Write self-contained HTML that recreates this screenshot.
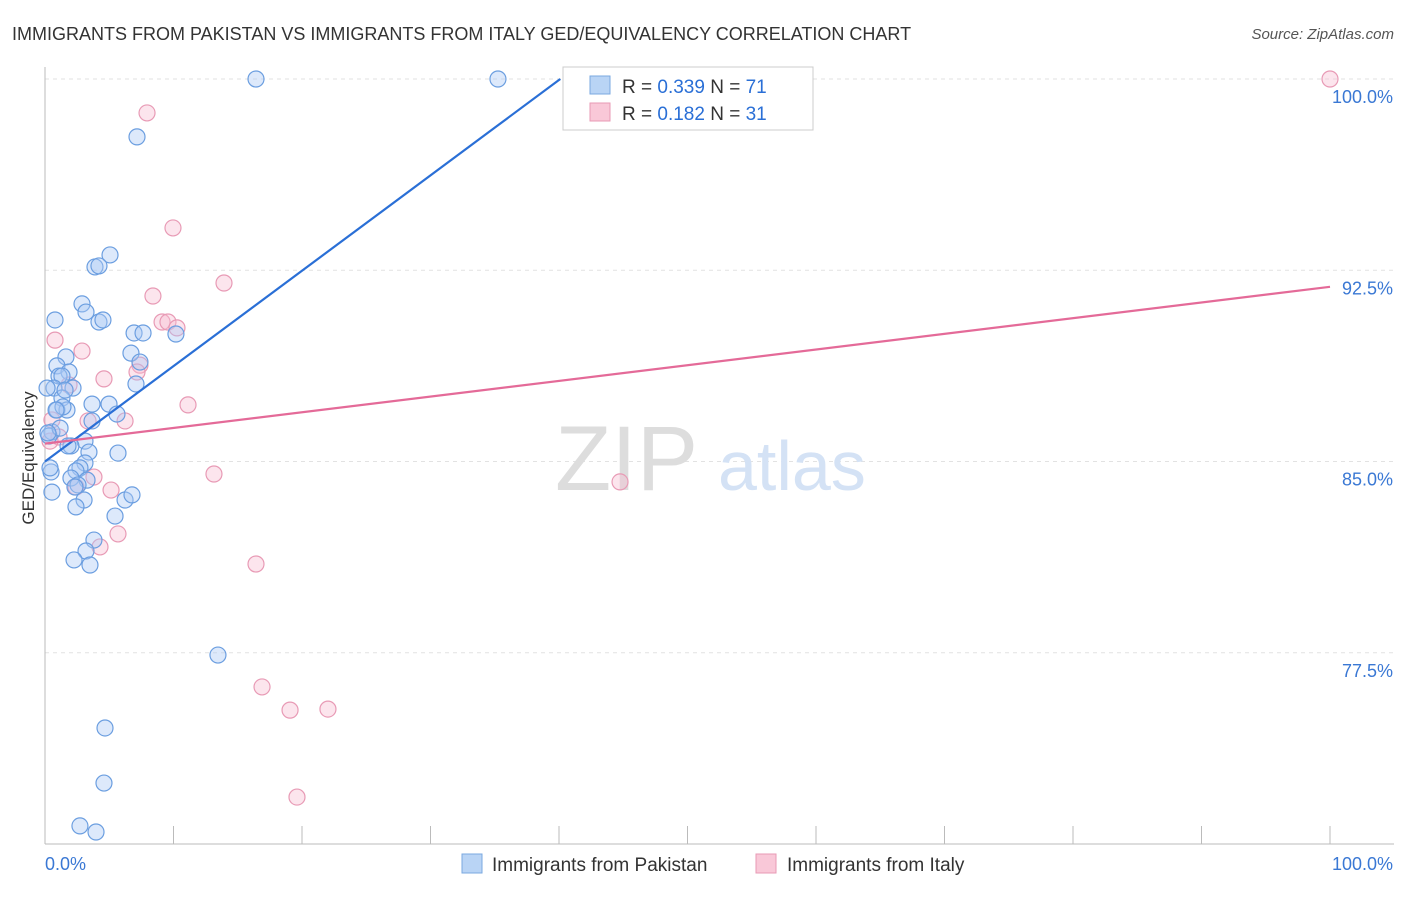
<!DOCTYPE html>
<html><head><meta charset="utf-8"><style>
body{margin:0;background:#fff;font-family:"Liberation Sans",sans-serif}
svg text{font-family:"Liberation Sans",sans-serif}
</style></head><body>
<svg width="1406" height="892" viewBox="0 0 1406 892" xmlns="http://www.w3.org/2000/svg">
<text x="12" y="40" font-size="18" fill="#333">IMMIGRANTS FROM PAKISTAN VS IMMIGRANTS FROM ITALY GED/EQUIVALENCY CORRELATION CHART</text>
<text x="1394" y="39" font-size="15" fill="#555" text-anchor="end" font-style="italic">Source: ZipAtlas.com</text>
<g id="grid"></g>
<text x="555" y="490" font-size="92" fill="#ddd" font-family="Liberation Serif">ZIP</text>
<text x="718" y="490" font-size="70" fill="#d4e2f5">atlas</text>
<g id="marks"></g>
<text transform="translate(34,458) rotate(-90)" font-size="17" fill="#333" text-anchor="middle">GED/Equivalency</text>
<g>
<rect x="563" y="67" width="250" height="63" fill="#fff" stroke="#ccc"/>
<rect x="590" y="76" width="20" height="18" fill="#b9d4f5" stroke="#7aa8e0"/>
<rect x="590" y="103" width="20" height="18" fill="#f9c8d8" stroke="#e89ab5"/>
<text x="622" y="93" font-size="19" fill="#333">R = <tspan fill="#2a6fd6">0.339</tspan>   N = <tspan fill="#2a6fd6">71</tspan></text>
<text x="622" y="120" font-size="19" fill="#333">R =  <tspan fill="#2a6fd6">0.182</tspan>   N = <tspan fill="#2a6fd6">31</tspan></text>
</g>
<g>
<rect x="462" y="854" width="20" height="19" fill="#b9d4f5" stroke="#7aa8e0"/>
<text x="492" y="871" font-size="19" fill="#333">Immigrants from Pakistan</text>
<rect x="756" y="854" width="20" height="19" fill="#f9c8d8" stroke="#e89ab5"/>
<text x="787" y="871" font-size="19" fill="#333">Immigrants from Italy</text>
</g>
</svg>
<script>
const yTicks=[100,92.5,85,77.5];
const yTickLabels=["100.0%","92.5%","85.0%","77.5%"];
const xTickVals=[0,10,20,30,40,50,60,70,80,90,100];
const bluePx=[[256,79],[498,79],[137,137],[110,255],[95,267],[99,266],[82,304],[86,312],[55,320],[99,322],[103,320],[134,333],[143,333],[176,334],[66,357],[131,353],[140,362],[57,366],[69,372],[59,376],[62,376],[54,388],[73,388],[136,384],[62,398],[92,404],[109,404],[57,410],[67,410],[63,407],[117,414],[92,421],[52,432],[49,436],[60,428],[85,441],[71,446],[89,452],[118,453],[85,463],[80,468],[76,471],[71,478],[51,472],[87,480],[78,485],[84,500],[52,492],[76,507],[125,500],[132,495],[115,516],[94,540],[86,551],[74,560],[90,565],[218,655],[105,728],[104,783],[80,826],[96,832],[47,388],[50,468],[56,410],[65,390],[68,446],[48,433],[75,487]];
const pinkPx=[[1330,79],[147,113],[173,228],[224,283],[153,296],[162,322],[168,322],[177,328],[55,340],[82,351],[140,365],[104,379],[69,385],[137,372],[188,405],[52,420],[88,421],[125,421],[59,437],[50,441],[214,474],[94,477],[76,487],[111,490],[118,534],[100,547],[620,482],[256,564],[262,687],[290,710],[328,709],[297,797]];
// convert read positions to data values (x %, y %)
const blueX=bluePx.map(p=>+((p[0]-45)/12.85).toFixed(2));
const blueY=bluePx.map(p=>+(100-(p[1]-79)/25.5).toFixed(2));
const pinkX=pinkPx.map(p=>+((p[0]-45)/12.85).toFixed(2));
const pinkY=pinkPx.map(p=>+(100-(p[1]-79)/25.5).toFixed(2));
const blueTrend=[[0,85],[40.1,100]];
const pinkTrend=[[0,85.7],[100,91.85]];
const X=v=>45+v*12.85, Y=v=>79+(100-v)*25.5;
const NS="http://www.w3.org/2000/svg";
const grid=document.getElementById('grid'), marks=document.getElementById('marks');
function mk(tag,at,parent){const e=document.createElementNS(NS,tag);for(const k in at)e.setAttribute(k,at[k]);parent.appendChild(e);return e;}
yTicks.forEach((t,i)=>{
 const l=mk('line',{x1:45,x2:1394,y1:Y(t),y2:Y(t),stroke:'#e2e2e2','stroke-dasharray':'4,4'},grid);
 
 
 const tx=mk('text',{x:1393,y:Y(t)+24,'font-size':18,fill:'#3a78d4','text-anchor':'end'},grid);
 tx.textContent=yTickLabels[i];
 
 
});
const ax=mk('line',{x1:45,x2:1394,y1:Y(70),y2:Y(70),stroke:'#bbb'},grid);


const ay=mk('line',{x1:45,x2:45,y1:67,y2:Y(70),stroke:'#bbb'},grid);


xTickVals.forEach(v=>{const t=mk('line',{x1:X(v),x2:X(v),y1:Y(70),y2:Y(70)-18,stroke:'#bbb'},grid);
 
 });
[[45,'start','0.0%'],[1393,'end','100.0%']].forEach(a=>{const t=mk('text',{x:a[0],y:870,'font-size':18,fill:'#3a78d4','text-anchor':a[1]},grid);t.textContent=a[2];
 
 });
function dots(xs,ys,fill,stroke,name){xs.forEach((x,i)=>{const c=mk('circle',{cx:X(x),cy:Y(ys[i]),r:8,fill:fill,stroke:stroke,'stroke-width':1.2},marks);
 
 });}
dots(pinkX,pinkY,'rgba(248,190,210,0.4)','#e89ab5','italy-point');
dots(blueX,blueY,'rgba(170,200,245,0.4)','#6b9ee0','pakistan-point');
const bl=mk('line',{x1:X(blueTrend[0][0]),y1:Y(blueTrend[0][1]),x2:X(blueTrend[1][0]),y2:Y(blueTrend[1][1]),stroke:'#2a6fd6','stroke-width':2.2},marks);


const pl=mk('line',{x1:X(pinkTrend[0][0]),y1:Y(pinkTrend[0][1]),x2:X(pinkTrend[1][0]),y2:Y(pinkTrend[1][1]),stroke:'#e46a98','stroke-width':2.2},marks);


</script>
</body></html>
